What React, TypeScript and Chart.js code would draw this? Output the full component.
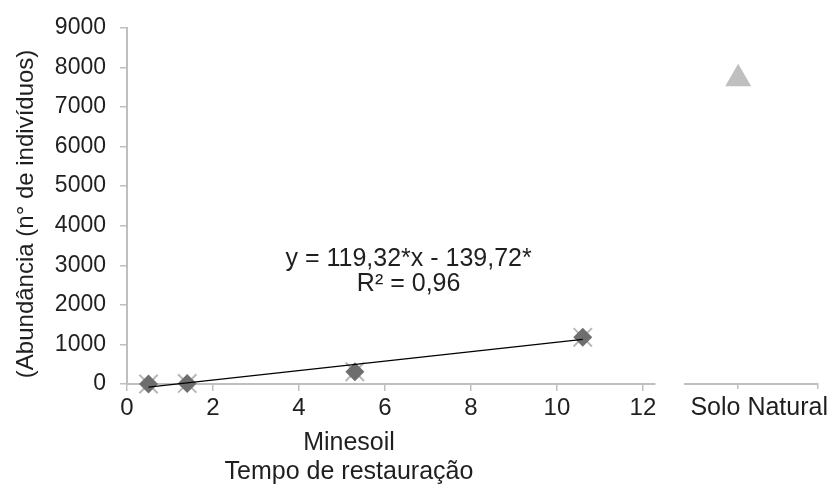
import React, { useEffect, useRef } from 'react';
import { Chart, registerables } from 'chart.js';

Chart.register(...registerables);

// ---- data ----
const restorationYears = [0.5, 1.4, 5.3, 10.6];
const minesoilAbundance = [0, 15, 310, 1180];
const naturalLabel = 'Solo Natural';
const naturalAbundance = [7650];
const trendSlope = 119.32;
const trendIntercept = -139.72;
const xTickValues = [0, 2, 4, 6, 8, 10, 12];
const yTickValues = [0, 1000, 2000, 3000, 4000, 5000, 6000, 7000, 8000, 9000];
const equationLines = ['y = 119,32*x - 139,72*', 'R² = 0,96'];
const yTitle = '(Abundância (n° de indivíduos)';
const xTitleLines = ['Minesoil', 'Tempo de restauração'];

const FONT = "'Liberation Sans', Arial, sans-serif";
const TEXT = '#1f1f1f';
const AXIS = '#bfbfbf';

const textPlugin = {
  id: 'texts',
  afterDraw(chart: any) {
    const { ctx, scales } = chart;
    const xs = scales.x;
    const ys = scales.y;
    ctx.save();
    ctx.fillStyle = TEXT;
    // equation
    ctx.font = `25px ${FONT}`;
    ctx.textAlign = 'center';
    ctx.textBaseline = 'alphabetic';
    const ex = xs.getPixelForValue(6.55);
    const ey = ys.getPixelForValue(2980);
    ctx.fillText(equationLines[0], ex, ey);
    ctx.fillText(equationLines[1], ex, ey + 25);
    // x title
    const tx = (xs.left + xs.right) / 2 - 42;
    ctx.fillText(xTitleLines[0], tx, xs.top + 66);
    ctx.fillText(xTitleLines[1], tx, xs.top + 95);
    // y title
    ctx.font = `24px ${FONT}`;
    ctx.translate(33, (ys.top + ys.bottom) / 2 + 8);
    ctx.rotate(-Math.PI / 2);
    ctx.fillText(yTitle, 0, 0);
    ctx.restore();
  },
};

export default function App() {
  const leftRef = useRef<HTMLCanvasElement>(null);
  const rightRef = useRef<HTMLCanvasElement>(null);

  useEffect(() => {
    Chart.defaults.font.family = FONT;
    const points = restorationYears.map((x, i) => ({ x, y: minesoilAbundance[i] }));
    const xMin = Math.min(...restorationYears);
    const xMax = Math.max(...restorationYears);
    const trend = [
      { x: xMin, y: trendSlope * xMin + trendIntercept },
      { x: xMax, y: trendSlope * xMax + trendIntercept },
    ];

    const left = new Chart(leftRef.current!, {
      type: 'scatter',
      data: {
        datasets: [
          {
            data: trend,
            showLine: true,
            borderColor: '#000000',
            borderWidth: 1.3,
            pointRadius: 0,
            clip: false,
          } as any,
          {
            data: points,
            pointStyle: 'rectRot',
            pointRadius: 9.5,
            backgroundColor: '#6e6e6e',
            borderColor: '#6e6e6e',
            borderWidth: 0,
            clip: false,
          } as any,
          {
            data: points,
            pointStyle: 'crossRot',
            pointRadius: 13,
            borderColor: '#b8b8b8',
            borderWidth: 2,
            clip: false,
          } as any,
        ],
      },
      options: {
        animation: false,
        responsive: false,
        maintainAspectRatio: false,
        layout: { padding: { top: 25, right: 9, left: 0, bottom: 0 } },
        plugins: { legend: { display: false }, tooltip: { enabled: false } },
        scales: {
          x: {
            type: 'linear',
            min: 0,
            max: 12.28,
            afterBuildTicks: (s: any) => {
              s.ticks = xTickValues.map((v) => ({ value: v }));
            },
            afterFit: (s: any) => {
              s.height = 107;
              s.paddingLeft = 0;
              s.paddingRight = 0;
            },
            grid: { drawOnChartArea: false, tickLength: 7, color: AXIS, lineWidth: 1.5 },
            border: { color: AXIS, width: 2 },
            ticks: {
              font: { size: 24 },
              color: TEXT,
              padding: 3,
              maxRotation: 0,
              autoSkip: false,
              callback: (v: any) => String(v),
            },
          },
          y: {
            type: 'linear',
            min: 0,
            max: 9000,
            afterBuildTicks: (s: any) => {
              s.ticks = yTickValues.map((v) => ({ value: v }));
            },
            afterFit: (s: any) => {
              s.width = 127;
            },
            grid: { drawOnChartArea: false, tickLength: 7, color: AXIS, lineWidth: 1.5 },
            border: { color: AXIS, width: 2 },
            ticks: {
              font: { size: 23 },
              color: TEXT,
              padding: 14,
              autoSkip: false,
              callback: (v: any) => String(v),
            },
          },
        },
      } as any,
      plugins: [textPlugin],
    });

    const right = new Chart(rightRef.current!, {
      type: 'scatter',
      data: {
        datasets: [
          {
            data: naturalAbundance.map((y) => ({ x: 2, y })),
            pointStyle: 'triangle',
            pointRadius: 15,
            backgroundColor: '#bfbfbf',
            borderColor: '#bfbfbf',
            borderWidth: 0,
            clip: false,
          } as any,
        ],
      },
      options: {
        animation: false,
        responsive: false,
        maintainAspectRatio: false,
        layout: { padding: { top: 25, right: 10, left: 8, bottom: 0 } },
        plugins: { legend: { display: false }, tooltip: { enabled: false } },
        scales: {
          x: {
            type: 'linear',
            min: 0,
            max: 5,
            afterBuildTicks: (s: any) => {
              s.ticks = [{ value: 2 }, { value: 5 }];
            },
            afterFit: (s: any) => {
              s.height = 107;
              s.paddingLeft = 0;
              s.paddingRight = 0;
            },
            grid: { drawOnChartArea: false, tickLength: 5, color: AXIS, lineWidth: 1.5 },
            border: { color: AXIS, width: 2 },
            ticks: {
              font: { size: 25 },
              color: TEXT,
              padding: 4,
              maxRotation: 0,
              autoSkip: false,
              labelOffset: 21,
              callback: (v: any) => (v === 2 ? naturalLabel : ''),
            },
          },
          y: { display: false, min: 0, max: 9000 },
        },
      } as any,
    });

    return () => {
      left.destroy();
      right.destroy();
    };
  }, []);

  return (
    <div
      style={{
        position: 'fixed',
        top: 0,
        left: 0,
        width: 833,
        height: 491,
        background: '#ffffff',
      }}
    >
      <canvas
        ref={leftRef}
        width={670}
        height={491}
        style={{ position: 'absolute', left: 0, top: 0, width: 670, height: 491 }}
      />
      <canvas
        ref={rightRef}
        width={163}
        height={491}
        style={{ position: 'absolute', left: 670, top: 0, width: 163, height: 491 }}
      />
    </div>
  );
}
